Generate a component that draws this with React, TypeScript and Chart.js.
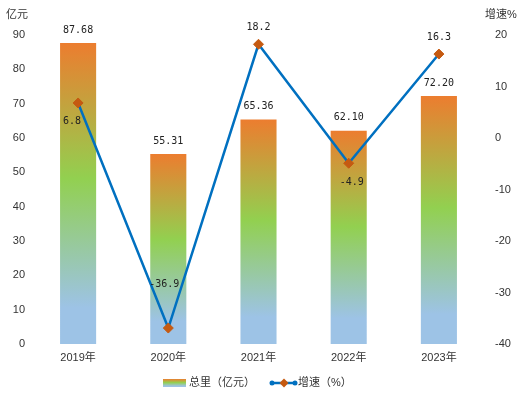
import React, { useEffect, useRef } from 'react';
import { Chart, registerables } from 'chart.js';
Chart.register(...registerables);

const categories = ['2019年', '2020年', '2021年', '2022年', '2023年'];
const totals = [87.68, 55.31, 65.36, 62.1, 72.2];
const growth = [6.8, -36.9, 18.2, -4.9, 16.3];
const leftTitle = '亿元';
const rightTitle = '增速%';
const barLegend = '总里（亿元）';
const lineLegend = '增速（%）';

// label offsets (style only)
const growthLabelOffsets = [[-6, 18], [-4, -44], [0, -17], [3, 19], [0, -17]];

const CJK = '"Liberation Sans", "Noto Sans CJK SC", sans-serif';
const MONO = '"DejaVu Sans Mono", "Liberation Mono", monospace';

function makeGrad(ctx: CanvasRenderingContext2D, top: number, bottom: number) {
  const g = ctx.createLinearGradient(0, top, 0, bottom);
  g.addColorStop(0, '#EC7D2F');
  g.addColorStop(0.45, '#92D050');
  g.addColorStop(0.88, '#9DC3E6');
  g.addColorStop(1, '#9DC3E6');
  return g;
}

const overlay = {
  id: 'overlay',
  afterDatasetsDraw(chart: any) {
    const ctx = chart.ctx as CanvasRenderingContext2D;
    ctx.save();
    ctx.fillStyle = '#222';
    ctx.textAlign = 'center';
    ctx.textBaseline = 'middle';
    ctx.font = `10px ${MONO}`;
    const barMeta = chart.getDatasetMeta(0);
    barMeta.data.forEach((el: any, i: number) => {
      ctx.fillText(totals[i].toFixed(2), el.x, el.y - 13);
    });
    const lineMeta = chart.getDatasetMeta(1);
    lineMeta.data.forEach((el: any, i: number) => {
      const [dx, dy] = growthLabelOffsets[i];
      ctx.fillText(growth[i].toFixed(1), el.x + dx, el.y + dy);
    });
    // axis titles
    ctx.font = `11px ${CJK}`;
    ctx.fillStyle = '#333';
    ctx.fillText(leftTitle, 17, 15);
    ctx.fillText(rightTitle, 501, 15);
    // legend
    const ly = 383;
    ctx.fillStyle = makeGrad(ctx, ly - 4, ly + 4);
    ctx.fillRect(163, ly - 4, 23, 8);
    ctx.fillStyle = '#333';
    ctx.textAlign = 'left';
    ctx.fillText(barLegend, 189, ly);
    ctx.strokeStyle = '#0070C0';
    ctx.lineWidth = 2.5;
    ctx.beginPath();
    ctx.moveTo(271, ly);
    ctx.lineTo(296, ly);
    ctx.stroke();
    ctx.fillStyle = '#0070C0';
    [272, 295].forEach((x) => {
      ctx.beginPath();
      ctx.arc(x, ly, 2.5, 0, Math.PI * 2);
      ctx.fill();
    });
    ctx.fillStyle = '#C55A11';
    ctx.beginPath();
    ctx.moveTo(284, ly - 4.5);
    ctx.lineTo(288.5, ly);
    ctx.lineTo(284, ly + 4.5);
    ctx.lineTo(279.5, ly);
    ctx.closePath();
    ctx.fill();
    ctx.fillStyle = '#333';
    ctx.fillText(lineLegend, 298, ly);
    ctx.restore();
  },
};

export default function App() {
  const ref = useRef<HTMLCanvasElement>(null);
  useEffect(() => {
    const chart = new Chart(ref.current!, {
      type: 'bar',
      data: {
        labels: categories,
        datasets: [
          {
            type: 'bar',
            label: barLegend,
            data: totals,
            yAxisID: 'y',
            order: 2,
            categoryPercentage: 1,
            barPercentage: 0.4,
            backgroundColor: (c: any) => {
              const chart = c.chart;
              if (!chart.chartArea || c.type !== 'data' || !chart.scales.y) return '#EC7D2F';
              const ys = chart.scales.y;
              const top = ys.getPixelForValue(totals[c.dataIndex]);
              const bottom = ys.getPixelForValue(0);
              return makeGrad(chart.ctx, top, bottom);
            },
            borderWidth: 0,
          } as any,
          {
            type: 'line',
            label: lineLegend,
            data: growth,
            yAxisID: 'y1',
            order: 1,
            borderColor: '#0070C0',
            borderWidth: 2.5,
            pointStyle: 'rectRot',
            pointRadius: 5,
            pointBackgroundColor: '#C55A11',
            pointBorderColor: '#C55A11',
            pointBorderWidth: 1,
            tension: 0,
          } as any,
        ],
      },
      options: {
        animation: false,
        responsive: true,
        maintainAspectRatio: false,
        layout: { padding: { top: 35, bottom: 26, left: 0, right: 0 } },
        plugins: { legend: { display: false }, tooltip: { enabled: false } },
        scales: {
          x: {
            grid: { display: false, drawTicks: false },
            border: { display: false },
            ticks: { color: '#333', font: { family: CJK, size: 11 }, padding: 7 },
            afterFit: (s: any) => { s.height = 24; },
          },
          y: {
            position: 'left',
            min: 0,
            max: 90,
            grid: { display: false, drawTicks: false },
            border: { display: false },
            ticks: { stepSize: 10, color: '#333', font: { family: CJK, size: 11 }, padding: 8 },
            afterFit: (s: any) => { s.width = 33; },
          },
          y1: {
            position: 'right',
            min: -40,
            max: 20,
            grid: { display: false, drawTicks: false },
            border: { display: false },
            ticks: { stepSize: 10, color: '#333', font: { family: CJK, size: 11 }, padding: 11 },
            afterFit: (s: any) => { s.width = 43; },
          },
        },
      },
      plugins: [overlay],
    });
    return () => chart.destroy();
  }, []);
  return (
    <div style={{ position: 'fixed', left: 0, top: 0, width: 527, height: 394, background: '#fff' }}>
      <canvas ref={ref} />
    </div>
  );
}
